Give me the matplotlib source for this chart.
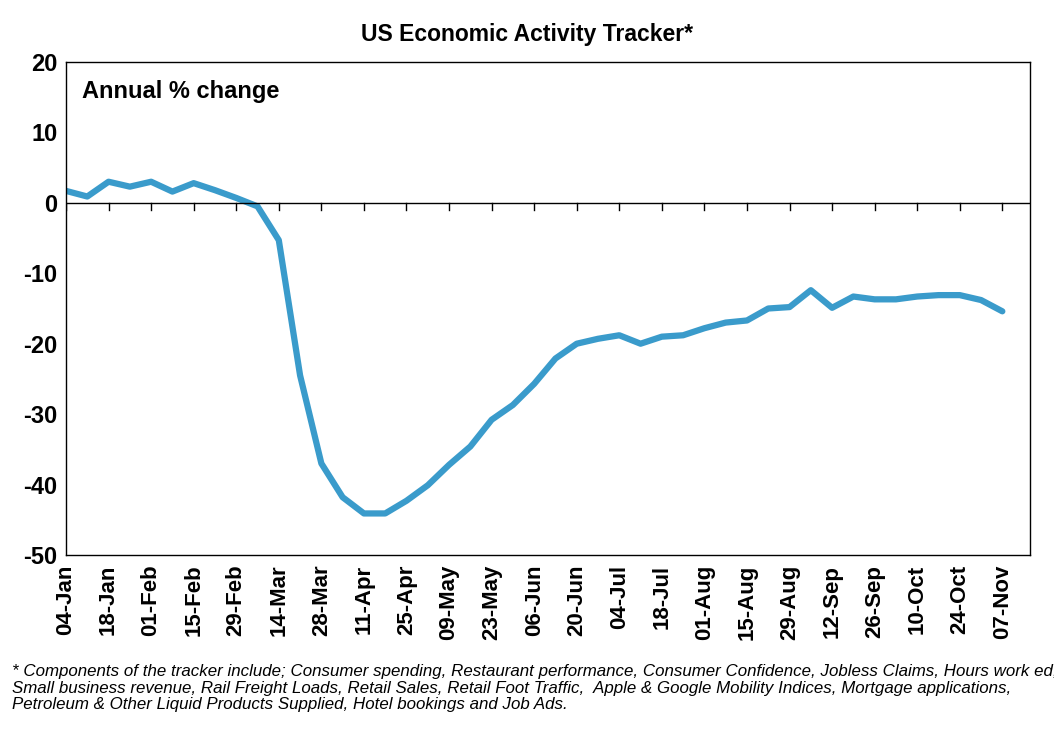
import matplotlib
matplotlib.use("Agg")
import matplotlib.pyplot as plt
import numpy as np

# weekly values, 04-Jan .. 07-Nov
values = [1.7, 0.9, 3.0, 2.3, 3.0, 1.6, 2.8, 1.8, 0.7, -0.5,
          -5.3, -24.5, -37.0, -41.8, -44.1, -44.1, -42.3, -40.1, -37.2, -34.6,
          -30.8, -28.7, -25.7, -22.1, -20.0, -19.3, -18.8, -20.0, -19.0, -18.8,
          -17.8, -17.0, -16.7, -15.0, -14.8, -12.4, -14.9, -13.3, -13.7, -13.7,
          -13.3, -13.1, -13.1, -13.8, -15.4]
tick_labels = ["04-Jan", "18-Jan", "01-Feb", "15-Feb", "29-Feb", "14-Mar", "28-Mar",
               "11-Apr", "25-Apr", "09-May", "23-May", "06-Jun", "20-Jun", "04-Jul",
               "18-Jul", "01-Aug", "15-Aug", "29-Aug", "12-Sep", "26-Sep", "10-Oct",
               "24-Oct", "07-Nov"]

plt.rcParams['font.family'] = ['Liberation Sans', 'DejaVu Sans']

fig = plt.figure(figsize=(10.54, 7.32), dpi=100)
ax = fig.add_axes([66/1054, 1-555/732, (1030-66)/1054, (555-62)/732])

x = np.arange(len(values))
ax.plot(x, values, color="#3a9bcb", lw=4.5, solid_capstyle="round")
ax.axhline(0, color="black", lw=1)

ax.set_xlim(0, 45.3)
ax.set_ylim(-50, 20)
ax.set_yticks(range(-50, 21, 10))
ax.set_yticklabels([str(v) for v in range(-50, 21, 10)], fontsize=17, fontweight="bold")
ax.set_xticks(x[::2])
ax.set_xticklabels(tick_labels, rotation=90, fontsize=16, fontweight="bold")
ax.tick_params(axis="x", length=0, pad=7)
ax.tick_params(axis="y", length=0, pad=6)
# tick marks on the zero line
for xi in x[::2]:
    ax.plot([xi, xi], [0, -1.0], color="black", lw=1)
for s in ax.spines.values():
    s.set_linewidth(1)

ax.text(0.017, 0.94, "Annual % change", transform=ax.transAxes, fontsize=17,
        fontweight="bold", va="center")
fig.text(0.5, 1-35/732, "US Economic Activity Tracker*", ha="center", va="center",
         fontsize=16.5, fontweight="bold")
fig.text(12/1054, 1-688/732,
         "* Components of the tracker include; Consumer spending, Restaurant performance, Consumer Confidence, Jobless Claims, Hours work ed,\n"
         "Small business revenue, Rail Freight Loads, Retail Sales, Retail Foot Traffic,  Apple & Google Mobility Indices, Mortgage applications,\n"
         "Petroleum & Other Liquid Products Supplied, Hotel bookings and Job Ads.",
         ha="left", va="center", fontsize=12.2, style="italic", linespacing=1.15)

fig.savefig("out.png", dpi=100)
